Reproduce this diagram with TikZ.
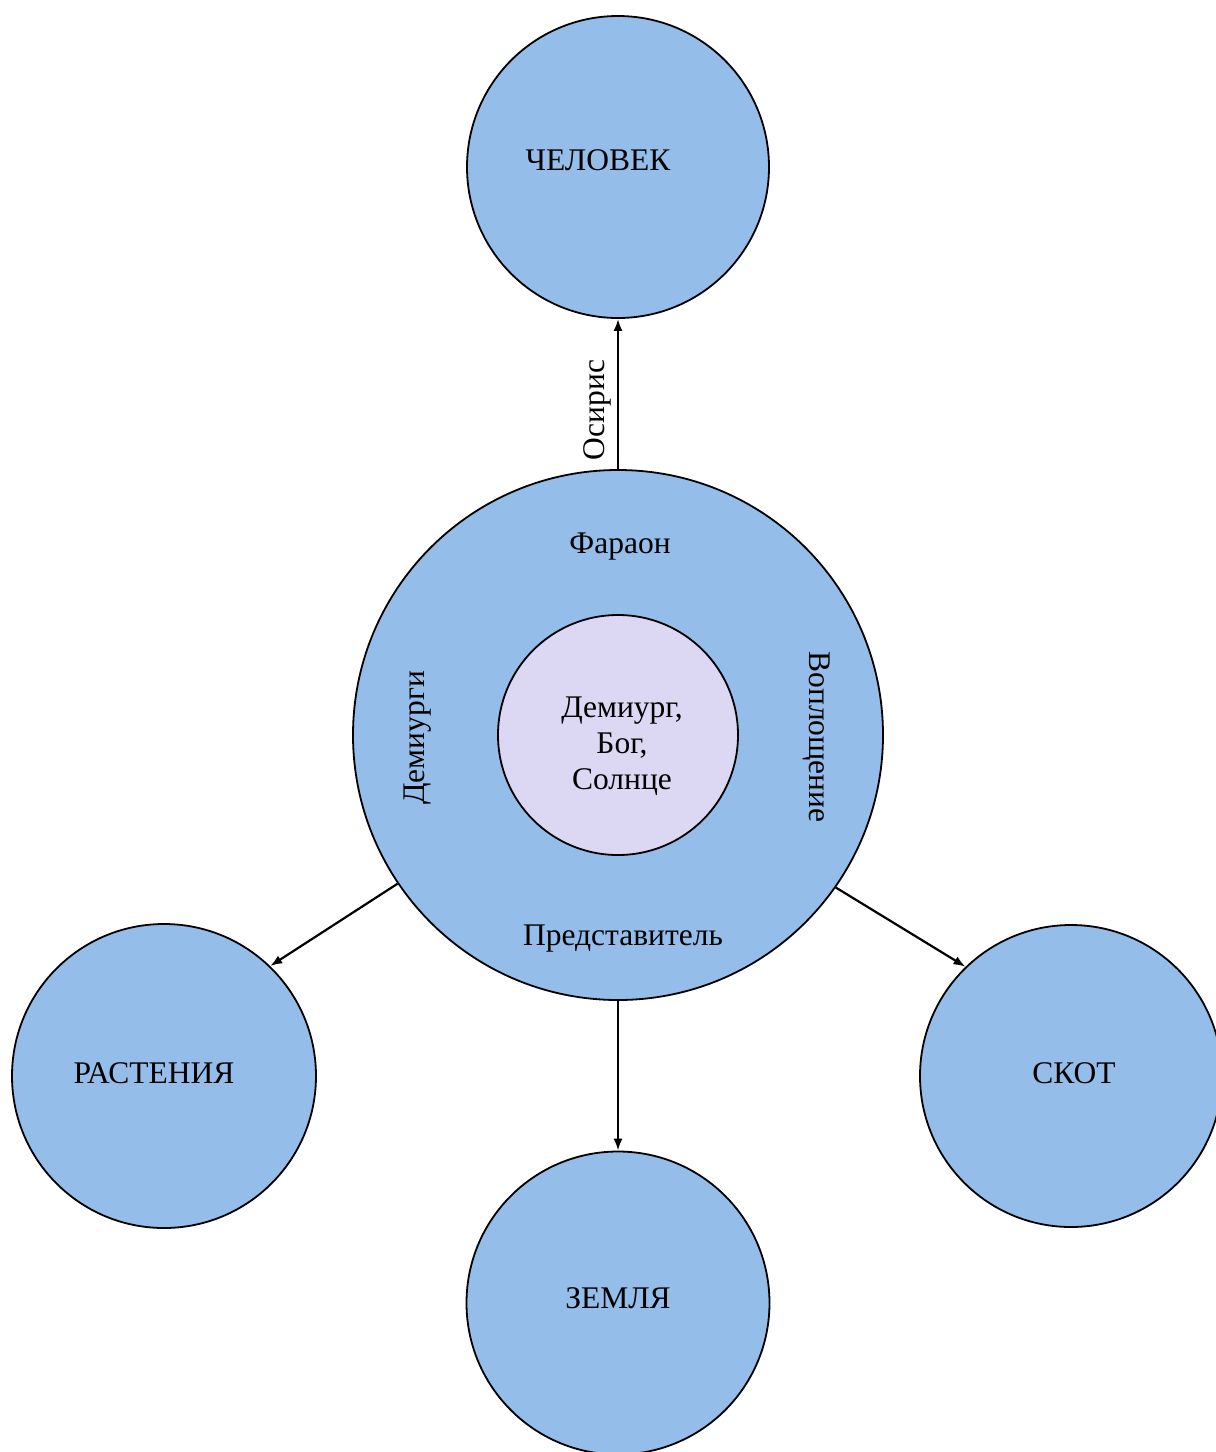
\documentclass[tikz,border=0pt]{standalone}
\usepackage{fontspec}
\setmainfont{Liberation Serif}
\usetikzlibrary{arrows.meta}
\definecolor{outerblue}{HTML}{95BDE9}
\definecolor{innerlilac}{HTML}{DCD8F4}
\tikzset{
  circ/.style={circle, draw=black, line width=1.8pt, fill=outerblue, inner sep=0pt, minimum size=#1},
  txt/.style={font=\fontsize{31.5}{36}\selectfont, inner sep=0pt, align=center},
  conn/.style={line width=2.2pt, -{Latex[length=12pt,width=9pt]}}
}
\begin{document}
\begin{tikzpicture}[x=1pt,y=-1pt]
\useasboundingbox (0,0) rectangle (1216,1452);
\begin{scope}
\clip (0,0) rectangle (1216,1452);
\node[circ=302pt] (chel) at (618,167) {};
\node[circ=530pt] (big) at (618,735) {};
\node[circ=240pt, fill=innerlilac] (inner) at (618,735) {};
\node[circ=304pt] (rast) at (164,1076) {};
\node[circ=302pt] (skot) at (1071,1076) {};
\node[circ=303pt] (zem) at (618,1303) {};
\end{scope}
\node[txt] (tchel) at (598,160) {ЧЕЛОВЕК};
\node[txt] (trast) at (154,1073) {РАСТЕНИЯ};
\node[txt] (tskot) at (1074,1073) {СКОТ};
\node[txt] (tzem) at (618,1298) {ЗЕМЛЯ};
\node[txt] (tinner) at (622,746) {Демиург,\\Бог,\\Солнце};
\node[txt] (tphar) at (620,547) {Фараон};
\node[txt] (tpred) at (623,939) {Представитель};
\node[txt, rotate=90] (tdem) at (418,738) {Демиурги};
\node[txt, rotate=-90] (tvop) at (817,737) {Воплощение};
\node[txt, rotate=90] (tosiris) at (597,410) {Осирис};
\draw[conn] (big.north) -- (chel.south);
\draw[conn] (big.214) -- (rast.46);
\draw[conn] (big.325.3) -- (skot.134.5);
\draw[conn] (big.south) -- (zem.north);
\end{tikzpicture}
\end{document}
